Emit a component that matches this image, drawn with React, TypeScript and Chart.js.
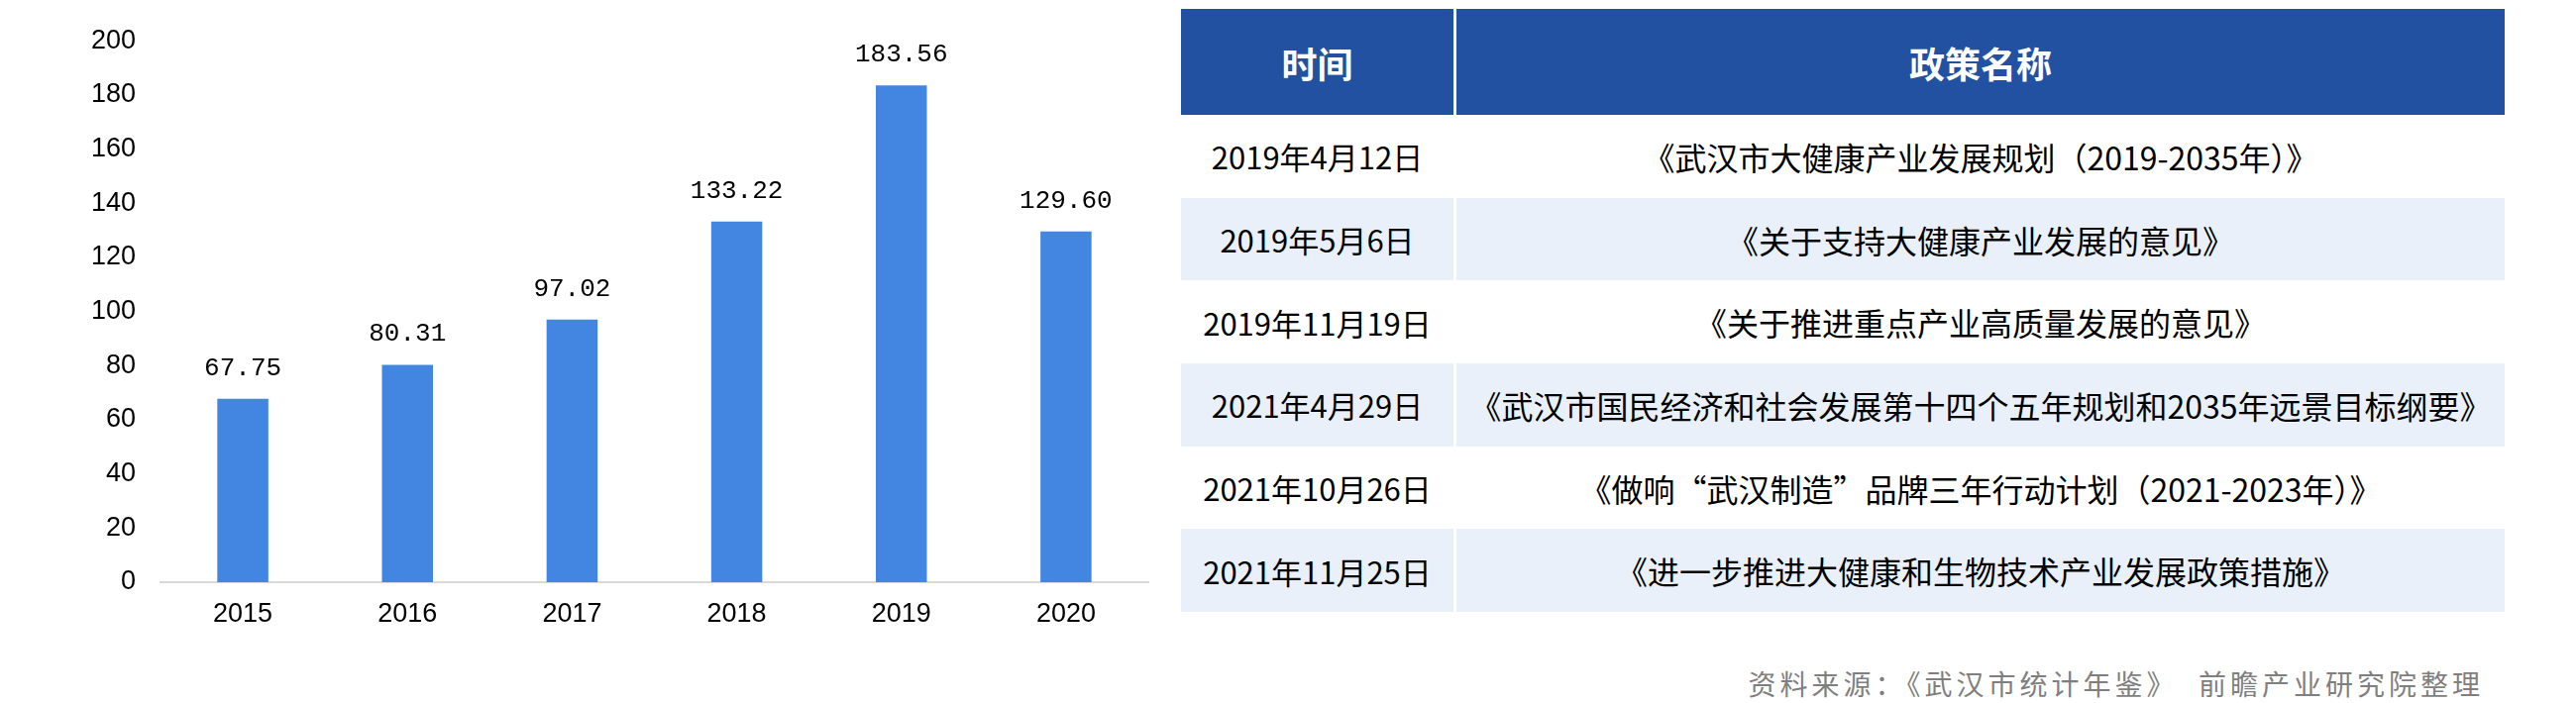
import React, { useEffect, useRef } from "react";
import { Chart, registerables } from "chart.js";

Chart.register(...registerables);

// ---- data ----
const years: string[] = ["2015", "2016", "2017", "2018", "2019", "2020"];
const values: number[] = [67.75, 80.31, 97.02, 133.22, 183.56, 129.6];
const yMin = 0;
const yMax = 200;
const yStep = 20;

const tableHeaders: string[] = ["时间", "政策名称"];
const policyDates: string[] = [
  "2019年4月12日",
  "2019年5月6日",
  "2019年11月19日",
  "2021年4月29日",
  "2021年10月26日",
  "2021年11月25日",
];
const policyNames: string[] = [
  "《武汉市大健康产业发展规划（2019-2035年）》",
  "《关于支持大健康产业发展的意见》",
  "《关于推进重点产业高质量发展的意见》",
  "《武汉市国民经济和社会发展第十四个五年规划和2035年远景目标纲要》",
  "《做响“武汉制造”品牌三年行动计划（2021-2023年）》",
  "《进一步推进大健康和生物技术产业发展政策措施》",
];
const sourceNote = "资料来源：《武汉市统计年鉴》  前瞻产业研究院整理";

// ---- styles ----
const BAR_COLOR = "#4286E1";
const AXIS_FONT = "'Liberation Sans', Arial, sans-serif";
const LABEL_FONT = "'Liberation Mono', 'DejaVu Sans Mono', monospace";
const CJK_FONT = "'Noto Sans CJK SC', 'Noto Sans', sans-serif";

const valueLabelPlugin = {
  id: "valueLabels",
  afterDatasetsDraw(chart: any) {
    const ctx = chart.ctx;
    const meta = chart.getDatasetMeta(0);
    ctx.save();
    ctx.font = `26px ${LABEL_FONT}`;
    ctx.fillStyle = "#000";
    ctx.textAlign = "center";
    ctx.textBaseline = "middle";
    meta.data.forEach((bar: any, i: number) => {
      const v = chart.data.datasets[0].data[i] as number;
      ctx.fillText(v.toFixed(2), bar.x, bar.y - 31);
    });
    ctx.restore();
  },
};

function BarChart() {
  const ref = useRef<HTMLCanvasElement | null>(null);
  useEffect(() => {
    if (!ref.current) return;
    const chart = new Chart(ref.current, {
      type: "bar",
      data: {
        labels: years,
        datasets: [
          {
            data: values,
            backgroundColor: BAR_COLOR,
            borderWidth: 0,
            barPercentage: 0.31,
            categoryPercentage: 1,
          },
        ],
      },
      options: {
        responsive: false,
        animation: false,
        layout: { padding: { left: 0, right: 21, top: 38, bottom: 0 } },
        plugins: { legend: { display: false }, tooltip: { enabled: false } },
        scales: {
          x: {
            grid: { display: false, drawTicks: false },
            border: { display: true, color: "#D9D9D9", width: 2 },
            ticks: { color: "#000", font: { family: AXIS_FONT, size: 27 }, padding: 16 },
            afterFit: (s: any) => {
              s.height = 122;
            },
          },
          y: {
            min: yMin,
            max: yMax,
            grid: { display: false, drawTicks: false },
            border: { display: false },
            ticks: { stepSize: yStep, color: "#000", font: { family: AXIS_FONT, size: 27 }, padding: 25 },
            afterFit: (s: any) => {
              s.width = 162;
            },
          },
        },
      },
      plugins: [valueLabelPlugin],
    });
    return () => chart.destroy();
  }, []);
  return <canvas ref={ref} width={1180} height={710} style={{ position: "absolute", left: 0, top: 0 }} />;
}

function PolicyTable() {
  const col1 = 275;
  const gap = 3;
  const col2 = 1058;
  const cell: React.CSSProperties = {
    display: "flex",
    alignItems: "center",
    justifyContent: "center",
    whiteSpace: "nowrap",
  };
  return (
    <div style={{ position: "absolute", left: 1192, top: 9, width: col1 + gap + col2, fontFamily: CJK_FONT }}>
      <div style={{ display: "flex", height: 107, gap }}>
        {tableHeaders.map((h, i) => (
          <div
            key={h}
            style={{ ...cell, width: i === 0 ? col1 : col2, background: "#2151A0", color: "#fff", fontWeight: 700, fontSize: 36 }}
          >
            {h}
          </div>
        ))}
      </div>
      {policyDates.map((d, r) => {
        const bg = r % 2 === 1 ? "#EAF0FA" : "transparent";
        return (
          <div key={d + r} style={{ display: "flex", height: 83.7, gap }}>
            <div style={{ ...cell, width: col1, background: bg, color: "#000", fontSize: 31 }}>{d}</div>
            <div style={{ ...cell, width: col2, background: bg, color: "#000", fontSize: 32 }}>{policyNames[r]}</div>
          </div>
        );
      })}
    </div>
  );
}

export default function App() {
  return (
    <div style={{ position: "fixed", left: 0, top: 0, width: 2600, height: 710, background: "#fff", overflow: "hidden" }}>
      <BarChart />
      <PolicyTable />
      <div
        style={{
          position: "absolute",
          right: 2600 - 2507,
          top: 690 - 20,
          height: 40,
          lineHeight: "40px",
          fontFamily: CJK_FONT,
          fontSize: 28,
          letterSpacing: 4,
          color: "#7F7F7F",
          whiteSpace: "pre",
        }}
      >
        {sourceNote}
      </div>
    </div>
  );
}
